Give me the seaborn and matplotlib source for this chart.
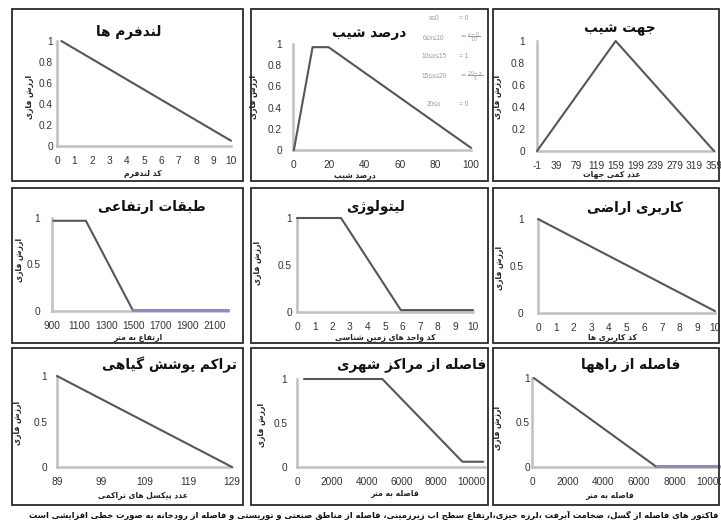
import matplotlib
matplotlib.use("Agg")
import matplotlib.pyplot as plt
import seaborn as sns
import pandas as pd
from matplotlib.patches import Rectangle

# ---------------- data ----------------
landform_x = [0.25, 10]
landform_y = [1.0, 0.05]

slope_x = [0.5, 11, 20, 100]
slope_y = [0.0, 0.97, 0.97, 0.02]

aspect_x = [-1, 159, 359]
aspect_y = [0.0, 1.0, 0.0]

elev_x = [910, 1150, 1500]
elev_y = [0.97, 0.97, 0.0]
elev_tail_x = [1500, 2200]
elev_tail_y = [0.015, 0.015]

lith_x = [0, 2.5, 5.9, 10]
lith_y = [1.0, 1.0, 0.02, 0.02]

landuse_x = [0, 10]
landuse_y = [1.0, 0.02]

veg_x = [89, 129]
veg_y = [1.0, 0.0]

urban_x = [400, 4900, 9500, 10700]
urban_y = [1.0, 1.0, 0.06, 0.06]

road_x = [100, 7000]
road_y = [1.0, 0.0]
road_tail_x = [7000, 10500]
road_tail_y = [0.015, 0.015]

titles = ["لندفرم ها", "درصد شیب", "جهت شیب",
          "طبقات ارتفاعی", "لیتولوژی", "کاربری اراضی",
          "تراکم پوشش گیاهی", "فاصله از مراکز شهری", "فاصله از راهها"]
xlabels = ["کد لندفرم", "درصد شیب", "عدد کمی جهات",
           "ارتفاع به متر", "کد واحد های زمین شناسی", "کد کاربری ها",
           "عدد پیکسل های تراکمی", "فاصله به متر", "فاصله به متر"]
ylabel = "ارزش فازی"
caption = ("فاکتور های فاصله از گسل، ضخامت آبرفت ،لرزه خیزی،ارتفاع سطح اب زیرزمینی، "
           "فاصله از مناطق صنعتی و توریستی و فاصله از رودخانه به صورت خطی افزایشی است")

xticks = [list(range(0, 11)), [0, 20, 40, 60, 80, 100], list(range(-1, 360, 40)),
          [900, 1100, 1300, 1500, 1700, 1900, 2100], list(range(0, 11)), list(range(0, 11)),
          [89, 99, 109, 119, 129], [0, 2000, 4000, 6000, 8000, 10000],
          [0, 2000, 4000, 6000, 8000, 10000]]
yticks_fine = [0, 0.2, 0.4, 0.6, 0.8, 1]
yticks_coarse = [0, 0.5, 1]

formula_left = ["x≤0", "0≤x≤10", "10≤x≤15", "15≤x≤20", "20≤x"]
formula_right = ["= 0", r"$=\frac{x-0}{10}$", "= 1", r"$=\frac{20-x}{5}$", "= 0"]

# ---------------- minimal Persian shaping ----------------
FORMS = {
    'ا': ('\uFE8D', '\uFE8E', None, None), 'آ': ('\uFE81', '\uFE82', None, None),
    'ب': ('\uFE8F', '\uFE90', '\uFE91', '\uFE92'), 'پ': ('\uFB56', '\uFB57', '\uFB58', '\uFB59'),
    'ت': ('\uFE95', '\uFE96', '\uFE97', '\uFE98'), 'ث': ('\uFE99', '\uFE9A', '\uFE9B', '\uFE9C'),
    'ج': ('\uFE9D', '\uFE9E', '\uFE9F', '\uFEA0'), 'چ': ('\uFB7A', '\uFB7B', '\uFB7C', '\uFB7D'),
    'ح': ('\uFEA1', '\uFEA2', '\uFEA3', '\uFEA4'), 'خ': ('\uFEA5', '\uFEA6', '\uFEA7', '\uFEA8'),
    'د': ('\uFEA9', '\uFEAA', None, None), 'ذ': ('\uFEAB', '\uFEAC', None, None),
    'ر': ('\uFEAD', '\uFEAE', None, None), 'ز': ('\uFEAF', '\uFEB0', None, None),
    'ژ': ('\uFB8A', '\uFB8B', None, None),
    'س': ('\uFEB1', '\uFEB2', '\uFEB3', '\uFEB4'), 'ش': ('\uFEB5', '\uFEB6', '\uFEB7', '\uFEB8'),
    'ص': ('\uFEB9', '\uFEBA', '\uFEBB', '\uFEBC'), 'ض': ('\uFEBD', '\uFEBE', '\uFEBF', '\uFEC0'),
    'ط': ('\uFEC1', '\uFEC2', '\uFEC3', '\uFEC4'), 'ظ': ('\uFEC5', '\uFEC6', '\uFEC7', '\uFEC8'),
    'ع': ('\uFEC9', '\uFECA', '\uFECB', '\uFECC'), 'غ': ('\uFECD', '\uFECE', '\uFECF', '\uFED0'),
    'ف': ('\uFED1', '\uFED2', '\uFED3', '\uFED4'), 'ق': ('\uFED5', '\uFED6', '\uFED7', '\uFED8'),
    'ک': ('\uFB8E', '\uFB8F', '\uFB90', '\uFB91'), 'گ': ('\uFB92', '\uFB93', '\uFB94', '\uFB95'),
    'ل': ('\uFEDD', '\uFEDE', '\uFEDF', '\uFEE0'), 'م': ('\uFEE1', '\uFEE2', '\uFEE3', '\uFEE4'),
    'ن': ('\uFEE5', '\uFEE6', '\uFEE7', '\uFEE8'), 'و': ('\uFEED', '\uFEEE', None, None),
    'ه': ('\uFEE9', '\uFEEA', '\uFEEB', '\uFEEC'), 'ی': ('\uFBFC', '\uFBFD', '\uFBFE', '\uFBFF'),
}
LAM_ALEF = {'ا': ('\uFEFB', '\uFEFC'), 'آ': ('\uFEF5', '\uFEF6')}


def _jf(c):
    return c in FORMS and FORMS[c][2] is not None


def fa(text):
    res = []
    n = len(text)
    i = 0
    while i < n:
        c = text[i]
        if c not in FORMS:
            if c != '\u200c':
                res.append(c)
            i += 1
            continue
        prev = text[i - 1] if i > 0 else ''
        nxt = text[i + 1] if i + 1 < n else ''
        cp = _jf(prev)
        if c == 'ل' and nxt in LAM_ALEF:
            iso, fin = LAM_ALEF[nxt]
            res.append(fin if cp else iso)
            i += 2
            continue
        cn = _jf(c) and nxt in FORMS
        f = FORMS[c]
        res.append(f[3] if (cp and cn) else f[1] if cp else f[2] if cn else f[0])
        i += 1
    return ''.join(reversed(res))


# ---------------- figure ----------------
sns.set_theme(style="white")
plt.rcParams['font.family'] = ['DejaVu Sans']
W, H = 721, 528
fig = plt.figure(figsize=(W / 100, H / 100), dpi=100)
fig.patch.set_facecolor('white')

LINE = '#555562'
TAIL = '#8c8cc0'
SPINE = '#c0c0c0'
NUM_FONT = 'Liberation Sans'


def px_rect(l, r, t, b):
    return [l / W, 1 - b / H, (r - l) / W, (b - t) / H]


def ftext(x, y, s, **kw):
    fig.text(x / W, 1 - y / H, s, **kw)


# boxes
cols = [(12, 243), (251, 488), (493, 719)]
rows = [(9, 181), (188, 343), (348, 505)]
for (t, b) in rows:
    for (l, r) in cols:
        fig.add_artist(Rectangle((l / W, 1 - b / H), (r - l) / W, (b - t) / H,
                                 transform=fig.transFigure, fill=False,
                                 edgecolor='#2b2b2b', linewidth=1.3))

panels = [
    dict(xs=[(landform_x, landform_y, LINE)], xlim=(0, 10), rect=(57, 231, 41, 146), yt=yticks_fine, ypad=3),
    dict(xs=[(slope_x, slope_y, LINE)], xlim=(0, 100), rect=(293, 471, 44, 150), yt=yticks_fine, ypad=8),
    dict(xs=[(aspect_x, aspect_y, LINE)], xlim=(-1, 359), rect=(537, 714, 41, 151), yt=yticks_fine, ypad=8.5),
    dict(xs=[(elev_x, elev_y, LINE), (elev_tail_x, elev_tail_y, TAIL)], xlim=(900, 2200), rect=(52, 228, 218, 311), yt=yticks_coarse, ypad=8.5),
    dict(xs=[(lith_x, lith_y, LINE)], xlim=(0, 10), rect=(297, 473, 218, 312), yt=yticks_coarse, ypad=3.6),
    dict(xs=[(landuse_x, landuse_y, LINE)], xlim=(0, 10), rect=(538, 715, 219, 313), yt=yticks_coarse, ypad=10.5),
    dict(xs=[(veg_x, veg_y, LINE)], xlim=(89, 129), rect=(57, 232, 376, 467), yt=yticks_coarse, ypad=7),
    dict(xs=[(urban_x, urban_y, LINE)], xlim=(0, 10800), rect=(297, 485, 379, 467), yt=yticks_coarse, ypad=7),
    dict(xs=[(road_x, road_y, LINE), (road_tail_x, road_tail_y, TAIL)], xlim=(0, 10500), rect=(532, 719, 378, 467), yt=yticks_coarse, ypad=1.5),
]

title_pos = [(129, 32), (369, 33), (620, 29), (152, 207), (376, 207), (635, 208),
             (169, 365), (412, 365), (631, 365)]
ylab_pos = [(30, 97), (253, 97), (497, 97), (20, 260), (257, 263), (500, 268),
            (18, 423), (262, 425), (497, 428)]
xlab_pos = [(143, 174), (355, 175), (612, 175), (138, 337), (385, 338), (613, 338),
            (143, 495), (395, 494), (610, 495)]


def fmt(v):
    if float(v).is_integer():
        return str(int(v))
    return ('%g' % v)


for k, p in enumerate(panels):
    l, r, t, b = p['rect']
    ax = fig.add_axes(px_rect(l, r, t, b))
    ax.set_facecolor('none')
    for (xv, yv, col) in p['xs']:
        df = pd.DataFrame({'x': xv, 'y': yv})
        sns.lineplot(data=df, x='x', y='y', ax=ax, color=col,
                     linewidth=1.5 if col == LINE else 2.2,
                     sort=False, estimator=None, clip_on=False, zorder=3)
    ax.set_xlim(*p['xlim'])
    ax.set_ylim(0, 1)
    ax.set_xticks(xticks[k])
    ax.set_xticklabels([fmt(v) for v in xticks[k]], fontsize=7.3, family=NUM_FONT, color='#333333')
    ax.set_yticks(p['yt'])
    ax.set_yticklabels([fmt(v) for v in p['yt']], fontsize=7.3, family=NUM_FONT, color='#333333')
    ax.tick_params(axis='x', length=0, pad=7.3)
    ax.tick_params(axis='y', length=0, pad=p['ypad'])
    ax.set_xlabel('')
    ax.set_ylabel('')
    ax.grid(False)
    for s in ['top', 'right']:
        ax.spines[s].set_visible(False)
    for s in ['left', 'bottom']:
        ax.spines[s].set_color(SPINE)
        ax.spines[s].set_linewidth(1.8)
    tx, ty = title_pos[k]
    ftext(tx, ty, fa(titles[k]), ha='center', va='center', fontsize=9.8,
          fontweight='bold', color='#111111')
    yx, yy = ylab_pos[k]
    ftext(yx, yy, fa(ylabel), ha='center', va='center', rotation=90, fontsize=5.5,
          fontweight='bold', color='#222222')
    xx, xy = xlab_pos[k]
    ftext(xx, xy, fa(xlabels[k]), ha='center', va='center', fontsize=5.5,
          fontweight='bold', color='#222222')

# formulas in slope panel
f_rows = [18, 38, 57, 77, 104]
for yy, lt, rt in zip(f_rows, formula_left, formula_right):
    ftext(434, yy, lt, ha='center', va='center', fontsize=4.8, color='#9a9a9a', family=NUM_FONT)
    ftext(459, yy, rt, ha='left', va='center', fontsize=4.8, color='#9a9a9a', family=NUM_FONT)

# caption
ftext(374, 515, fa(caption), ha='center', va='center', fontsize=6, fontweight='bold',
      color='#111111')

fig.savefig('out.png', dpi=100, facecolor='white')
